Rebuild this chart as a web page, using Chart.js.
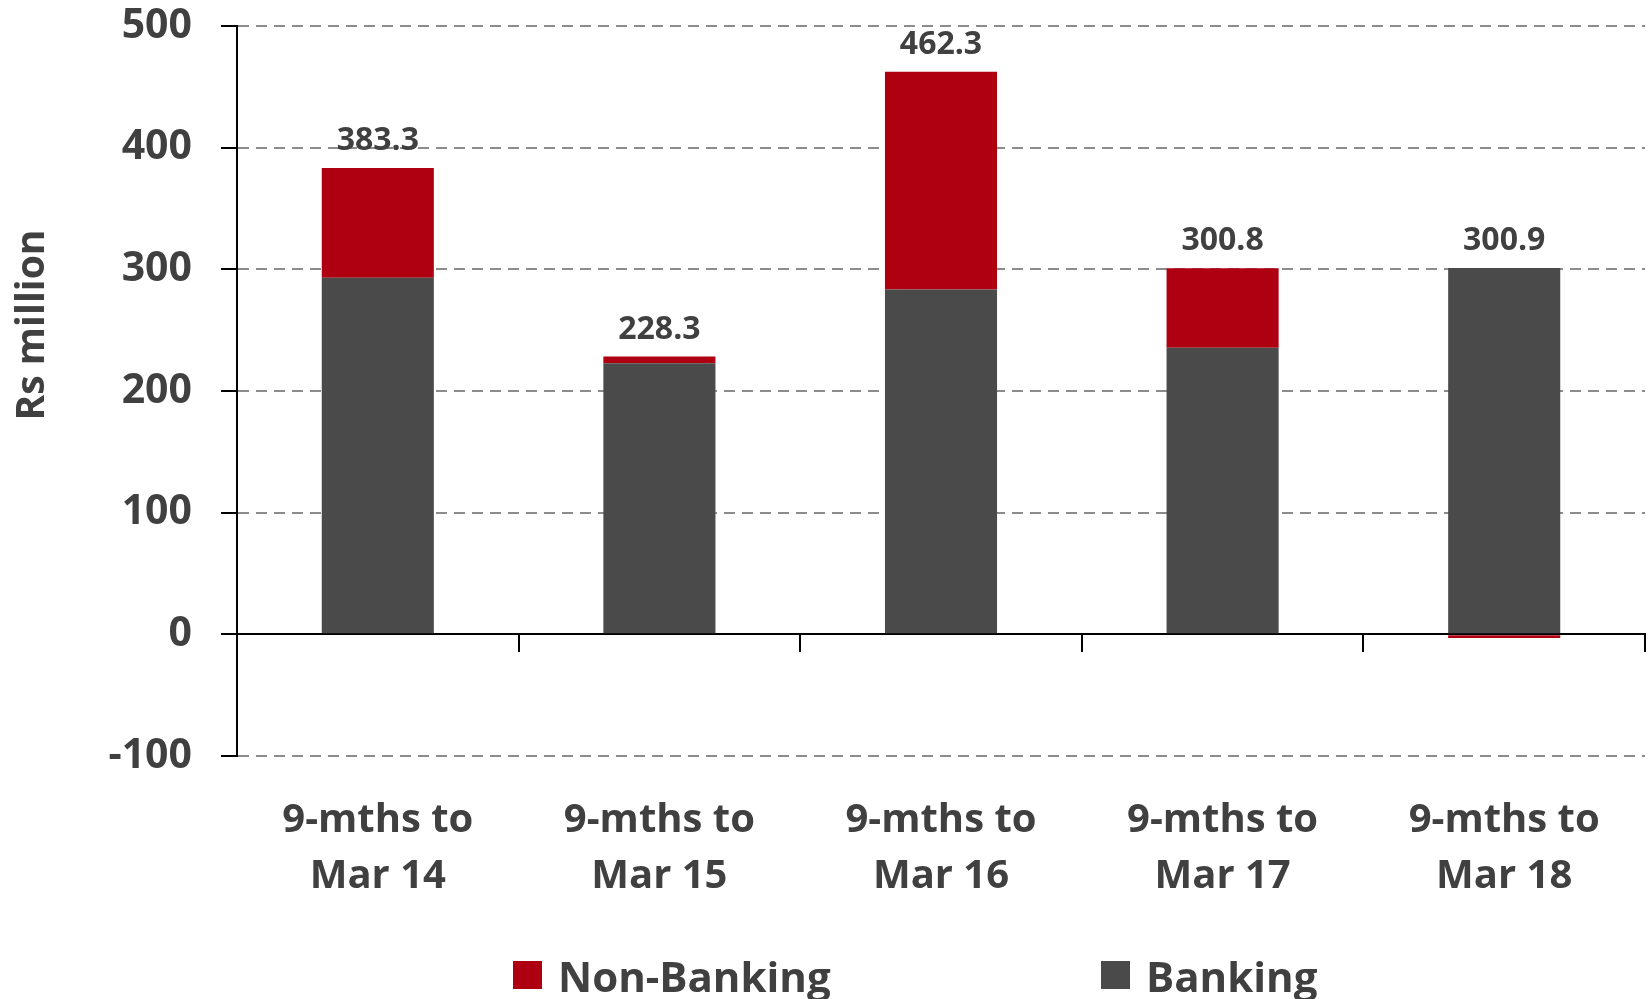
<!DOCTYPE html>
<html>
<head>
<meta charset="utf-8">
<script src="https://cdn.jsdelivr.net/npm/chart.js@4/dist/chart.umd.min.js"></script>
<style>
  html, body { margin: 0; padding: 0; background: #ffffff; }
  #wrap { position: relative; width: 1648px; height: 999px; }
</style>
</head>
<body>
<div id="wrap"><canvas id="c" width="1648" height="999"></canvas></div>
<script>
const categories = [
  ["9-mths to", "Mar 14"],
  ["9-mths to", "Mar 15"],
  ["9-mths to", "Mar 16"],
  ["9-mths to", "Mar 17"],
  ["9-mths to", "Mar 18"]
];
const banking = [293.0, 222.8, 283.5, 235.6, 301.0];
const nonBanking = [90.3, 5.5, 178.8, 65.2, -3.0];
const totals = [383.3, 228.3, 462.3, 300.8, 300.9];
const yTicks = [-100, 0, 100, 200, 300, 400, 500];
const yTitle = 'Rs million';

const TEXT = '#404040';
const RED = '#AE0010';
const GREY = '#4A4A4A';
const FONT = "'Open Sans', 'DejaVu Sans', sans-serif";

const bgPlugin = {
  id: 'bg',
  beforeDraw(chart) {
    const ctx = chart.ctx;
    ctx.save();
    ctx.fillStyle = '#ffffff';
    ctx.fillRect(0, 0, chart.width, chart.height);
    ctx.restore();
  }
};

const yTitlePlugin = {
  id: 'yTitle',
  afterDraw(chart) {
    const ctx = chart.ctx;
    ctx.save();
    ctx.translate(33, 325);
    ctx.rotate(-Math.PI / 2);
    ctx.font = "bold 39px " + FONT;
    ctx.fillStyle = TEXT;
    ctx.textAlign = 'center';
    ctx.textBaseline = 'middle';
    ctx.fillText(yTitle, 0, 0);
    ctx.restore();
  }
};

const totalLabelPlugin = {
  id: 'totalLabels',
  afterDatasetsDraw(chart) {
    const ctx = chart.ctx;
    const m0 = chart.getDatasetMeta(0);
    const m1 = chart.getDatasetMeta(1);
    ctx.save();
    ctx.font = "bold 32px " + FONT;
    ctx.fillStyle = TEXT;
    ctx.textAlign = 'center';
    ctx.textBaseline = 'alphabetic';
    totals.forEach((t, i) => {
      const b0 = m0.data[i], b1 = m1.data[i];
      const top = Math.min(b0.y, b0.base, b1.y, b1.base);
      ctx.fillText(t.toFixed(1), b0.x, top - 18);
    });
    ctx.restore();
  }
};

const legendPlugin = {
  id: 'customLegend',
  afterDraw(chart) {
    const ctx = chart.ctx;
    const items = [
      { ds: chart.data.datasets[1], x: 513 },
      { ds: chart.data.datasets[0], x: 1101 }
    ];
    ctx.save();
    ctx.font = "bold 42px " + FONT;
    ctx.textBaseline = 'alphabetic';
    ctx.textAlign = 'left';
    items.forEach(it => {
      ctx.fillStyle = it.ds.backgroundColor;
      ctx.fillRect(it.x, 961, 29, 28);
      ctx.fillStyle = TEXT;
      ctx.fillText(it.ds.label, it.x + 45, 992);
    });
    ctx.restore();
  }
};

new Chart(document.getElementById('c'), {
  type: 'bar',
  data: {
    labels: categories,
    datasets: [
      { label: 'Banking', data: banking, backgroundColor: GREY, borderWidth: 0,
        barPercentage: 0.398, categoryPercentage: 1.0, stack: 's' },
      { label: 'Non-Banking', data: nonBanking, backgroundColor: RED, borderWidth: 0,
        barPercentage: 0.398, categoryPercentage: 1.0, stack: 's' }
    ]
  },
  options: {
    responsive: false,
    animation: false,
    devicePixelRatio: 1,
    layout: { padding: { top: 26, right: 3, bottom: 97, left: 0 } },
    plugins: {
      legend: { display: false },
      tooltip: { enabled: false }
    },
    scales: {
      x: {
        type: 'category',
        stacked: true,
        position: 'bottom',
        offset: true,
        grid: { display: false, drawTicks: false, offset: true },
        border: { display: false },
        ticks: {
          color: TEXT,
          padding: 37,
          maxRotation: 0,
          autoSkip: false,
          font: { family: FONT, size: 40, weight: 'bold', lineHeight: 1.4 }
        },
        afterFit(scale) { scale.height = 146; }
      },
      xZero: {
        type: 'category',
        axis: 'x',
        position: { y: 0 },
        offset: true,
        z: 1,
        grid: {
          display: true, drawOnChartArea: false, drawTicks: true, offset: true,
          tickLength: 17, tickColor: '#000000', tickWidth: 2, lineWidth: 2, color: '#000000'
        },
        border: { display: true, color: '#000000', width: 2 },
        ticks: { display: false }
      },
      y: {
        type: 'linear',
        stacked: true,
        min: -100,
        max: 500,
        afterBuildTicks(scale) { scale.ticks = yTicks.map(v => ({ value: v })); },
        grid: {
          color: (c) => (c.tick && c.tick.value === 0) ? 'rgba(0,0,0,0)' : '#8C8C8C',
          lineWidth: 2,
          drawTicks: true,
          tickLength: 16,
          tickColor: '#000000',
          tickWidth: 2,
          tickBorderDash: []
        },
        border: { display: true, color: '#000000', width: 2, dash: [11, 7] },
        ticks: {
          color: TEXT,
          padding: 29,
          font: { family: FONT, size: 41, weight: 'bold' }
        },
        title: { display: false },
        afterFit(scale) {
          scale.width = 237;
          scale.paddingTop = 0;
          scale.paddingBottom = 0;
        }
      }
    }
  },
  plugins: [bgPlugin, totalLabelPlugin, legendPlugin, yTitlePlugin]
});
</script>
</body>
</html>
